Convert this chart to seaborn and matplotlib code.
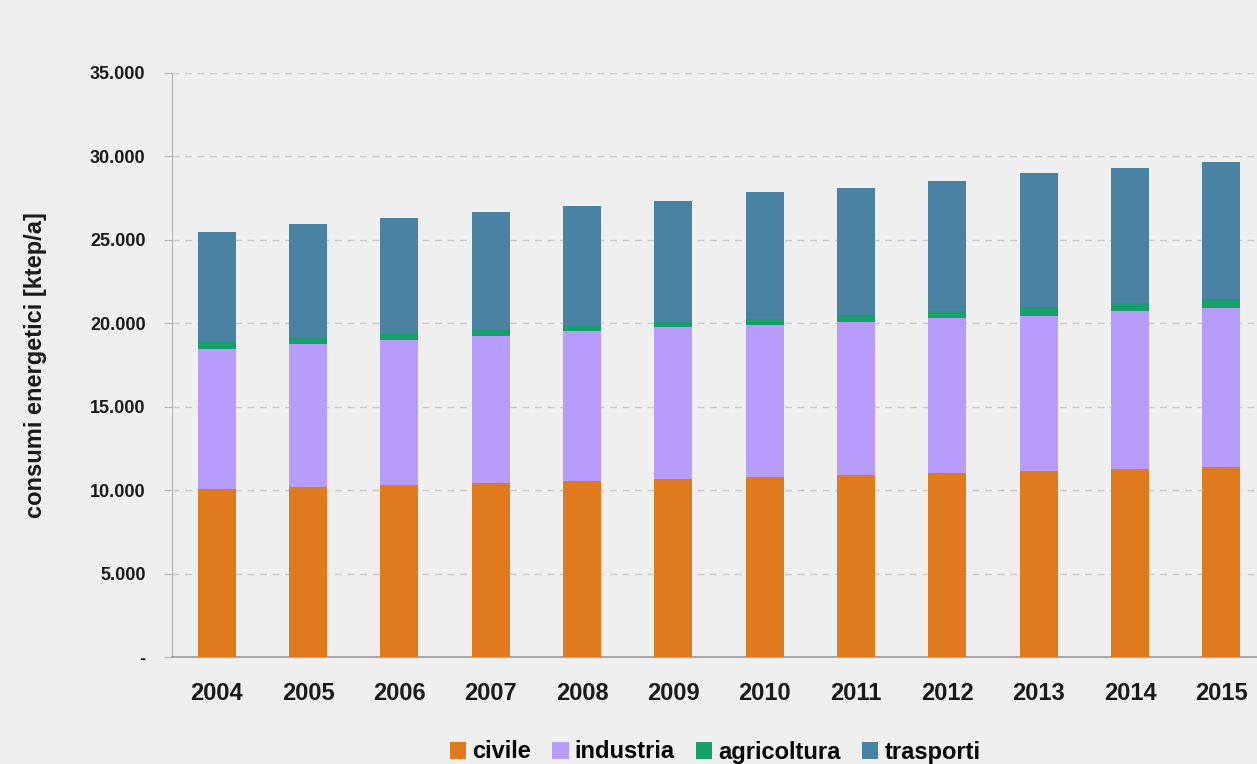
import pandas as pd
import numpy as np
import matplotlib.pyplot as plt
import seaborn as sns
from matplotlib.ticker import FuncFormatter, MultipleLocator
from matplotlib.patches import Patch

YEARS = ["2004", "2005", "2006", "2007", "2008", "2009",
         "2010", "2011", "2012", "2013", "2014", "2015"]
CIVILE = [10050, 10190, 10300, 10400, 10550, 10660, 10780, 10900, 11000, 11140, 11240, 11360]
INDUSTRIA = [8400, 8560, 8700, 8850, 8980, 9110, 9120, 9150, 9290, 9310, 9490, 9570]
AGRICOLTURA = [450, 380, 360, 340, 300, 300, 350, 440, 440, 540, 500, 500]
TRASPORTI = [6560, 6850, 6950, 7060, 7190, 7250, 7610, 7640, 7800, 8020, 8100, 8250]

SERIES = ["civile", "industria", "agricoltura", "trasporti"]
COLORS = {
    "civile": "#df7a1e",
    "industria": "#b89cfc",
    "agricoltura": "#17a06c",
    "trasporti": "#4a82a3",
}
BG = "#efefef"


def it_thousands(v, pos):
    if v == 0:
        return "-"
    return f"{v:,.0f}".replace(",", ".")


def main():
    df = pd.DataFrame({
        "anno": YEARS,
        "civile": CIVILE,
        "industria": INDUSTRIA,
        "agricoltura": AGRICOLTURA,
        "trasporti": TRASPORTI,
    })
    # cumulative tops so the taller layers can be drawn first
    cum = df[SERIES].cumsum(axis=1)
    cum["anno"] = df["anno"]

    plt.rcParams["font.family"] = ["Liberation Sans", "DejaVu Sans"]
    fig = plt.figure(figsize=(12.57, 7.64), dpi=100, facecolor=BG)
    ax = fig.add_axes([172 / 1257, 1 - 657 / 764, 1 - 172 / 1257, (657 - 73) / 764])
    ax.set_facecolor(BG)

    for s in reversed(SERIES):
        sns.barplot(data=cum, x="anno", y=s, color=COLORS[s], width=0.416,
                    saturation=1, ax=ax, zorder=3)

    ax.set_ylim(0, 35000)
    ax.set_xlim(-0.49, 11.39)
    ax.yaxis.set_major_locator(MultipleLocator(5000))
    ax.yaxis.set_major_formatter(FuncFormatter(it_thousands))
    ax.grid(axis="y", color="#c9c9c9", linestyle=(0, (5, 4)), linewidth=1, zorder=0)
    ax.set_axisbelow(True)

    for side in ["top", "right"]:
        ax.spines[side].set_visible(False)
    ax.spines["left"].set_color("#b5b5b5")
    ax.spines["bottom"].set_color("#9a9a9a")
    ax.spines["bottom"].set_linewidth(1.2)

    ax.tick_params(axis="y", length=6, color="#b5b5b5", pad=13, labelsize=13)
    ax.tick_params(axis="x", length=0, pad=18, labelsize=17)
    for lab in ax.get_xticklabels() + ax.get_yticklabels():
        lab.set_fontweight("bold")
        lab.set_color("#1a1a1a")

    ax.set_xlabel("")
    ax.set_ylabel("consumi energetici [ktep/a]", fontsize=17, fontweight="bold",
                  color="#1a1a1a")
    ax.yaxis.set_label_coords((47 - 172) / 1085, 0.5)

    handles = [Patch(facecolor=COLORS[s], label=s) for s in SERIES]
    fig.legend(handles=handles, loc="center", bbox_to_anchor=(715 / 1257, 1 - 752 / 764),
               ncol=4, frameon=False, handlelength=0.7, handleheight=0.7,
               handletextpad=0.25, columnspacing=0.9,
               prop={"size": 17, "weight": "bold"})

    fig.savefig("out.png", dpi=100, facecolor=BG)


if __name__ == "__main__":
    main()
